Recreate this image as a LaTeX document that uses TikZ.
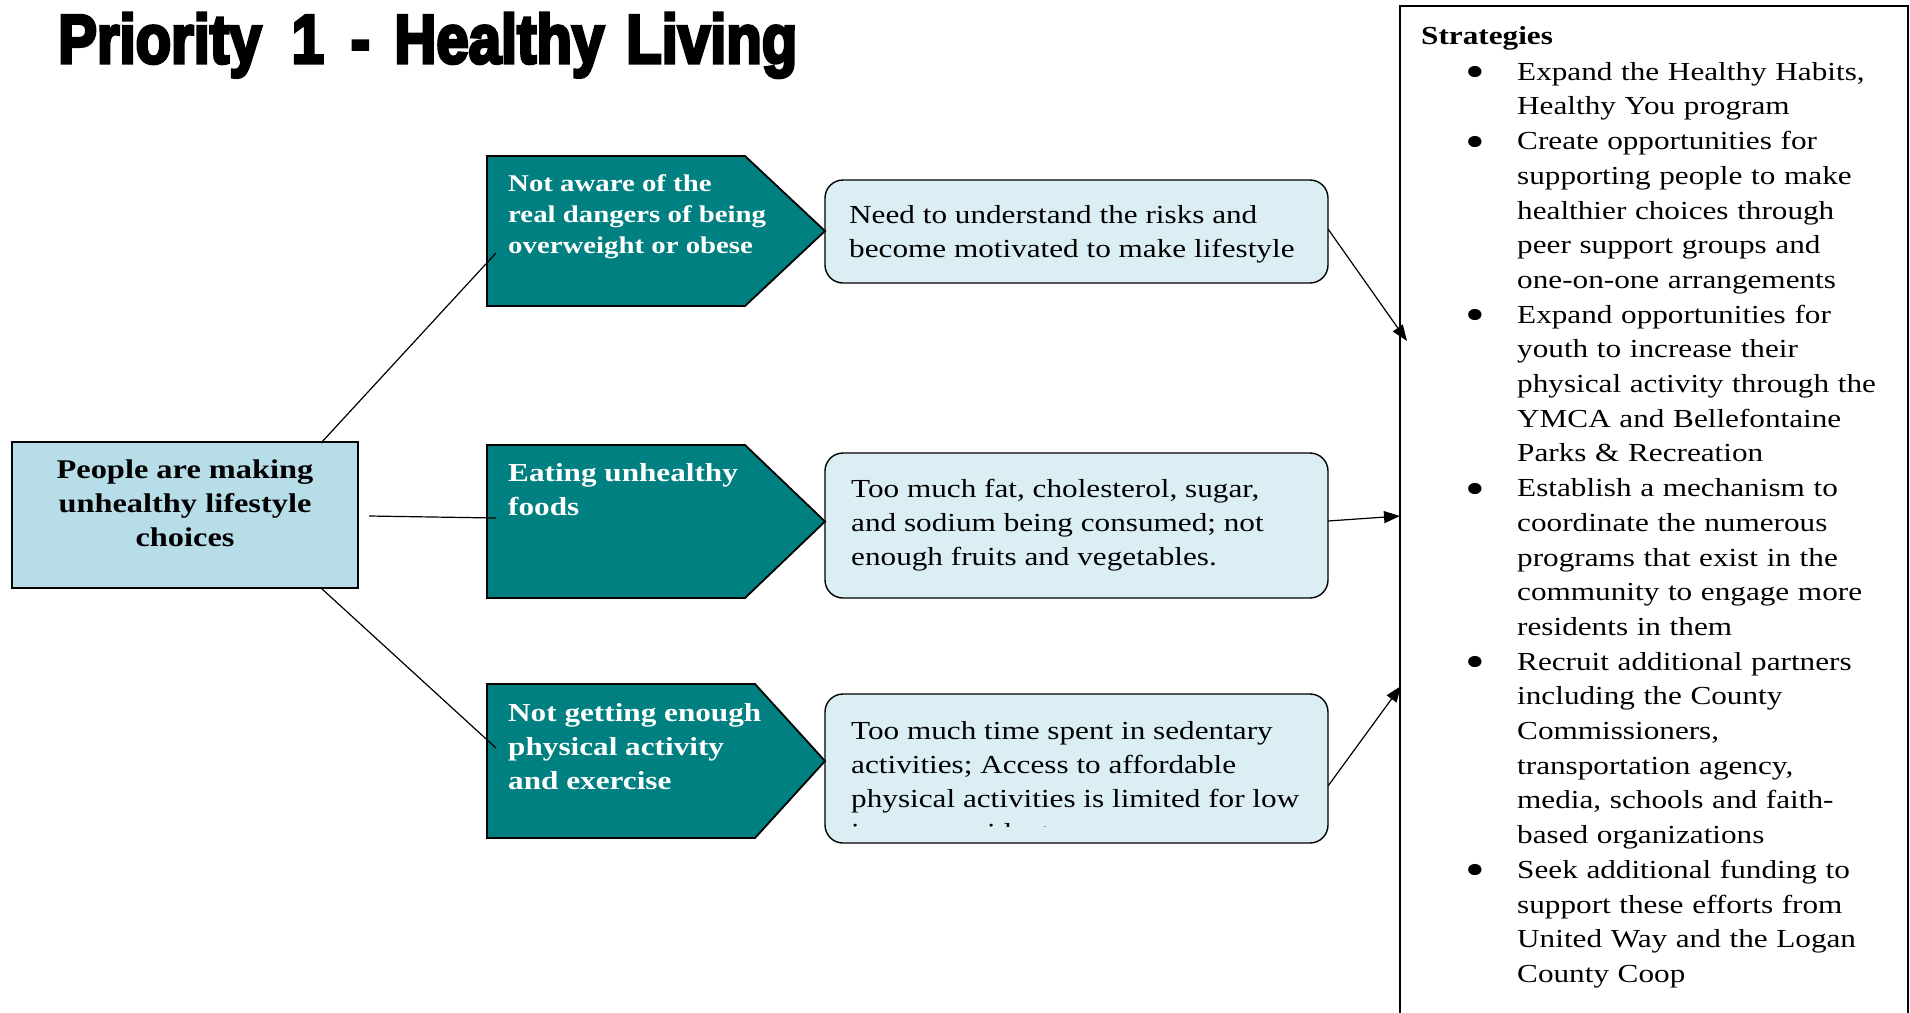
\documentclass[tikz,border=0pt]{standalone}
\usepackage{fontspec}
\usepackage{graphicx}
\setmainfont{Liberation Serif}[FakeStretch=1.2]
\newfontfamily\titlefont{Liberation Sans}[BoldFeatures={FakeBold=5}]
\usetikzlibrary{arrows.meta,calc}
\definecolor{tealfill}{RGB}{0,128,128}
\definecolor{rootfill}{RGB}{183,221,232}
\definecolor{lightfill}{RGB}{218,238,243}
\newcommand{\firststrut}{\rule{0pt}{20pt}}
\newcommand{\bigdot}{\raisebox{-7.5pt}{\scalebox{1.8}{\textbullet}}}
\tikzset{
  boxnode/.style={anchor=north west, inner sep=0pt, outer sep=0pt},
  rootbox/.style={boxnode, fill=rootfill, draw=black, line width=1.6pt},
  lightbox/.style={boxnode, fill=lightfill, draw=black, line width=1.4pt, rounded corners=18pt},
  tealshape/.style={fill=tealfill, draw=black, line width=1.8pt},
  stratbox/.style={boxnode, draw=black, line width=1.8pt},
  txt/.style={anchor=north west, inner sep=0pt, align=left},
  tealtxt/.style={txt, text=white},
  conn/.style={line width=1.2pt},
  arr/.style={line width=1.2pt, -{Triangle[length=16pt,width=12pt]}},
  bigbold/.style={font=\fontsize{26pt}{34pt}\selectfont\bfseries},
  body/.style={font=\fontsize{26pt}{34pt}\selectfont}
}
\begin{document}
\begin{tikzpicture}[x=1pt,y=-1pt]
\useasboundingbox (0,0) rectangle (1910,1012);

% title
\node[anchor=base west, inner sep=0pt] (title) at (58,63)
  {\resizebox{739pt}{50pt}{\titlefont\bfseries Priority\hspace{5.2pt}1\hspace{4.6pt}-\hspace{4.2pt}Healthy\hspace{3.8pt}Living}};

% left box
\node[rootbox, minimum width=346pt, minimum height=146pt] (root) at (12,442) {};
\node[anchor=north, inner sep=0pt, align=center, font=\fontsize{27pt}{34pt}\selectfont\bfseries] (roottxt) at (185,458)
  {\firststrut People are making\\unhealthy lifestyle\\choices};

% light boxes
\node[lightbox, minimum width=503pt, minimum height=103pt] (b1) at (825,180) {};
\node[lightbox, minimum width=503pt, minimum height=145pt] (b2) at (825,453) {};
\node[lightbox, minimum width=503pt, minimum height=149pt] (b3) at (825,694) {};

\node[txt, body] (b1txt) at (849,203)
  {\firststrut Need to understand the risks and\\become motivated to make lifestyle};
\node[txt, body] (b2txt) at (851,477)
  {\firststrut Too much fat, cholesterol, sugar,\\and sodium being consumed; not\\enough fruits and vegetables.};
\begin{scope}
  \clip (825,694) rectangle (1328,826);
  \node[txt, body] (b3txt) at (851,719)
    {\firststrut Too much time spent in sedentary\\activities; Access to affordable\\physical activities is limited for low\\income residents};
\end{scope}

% teal pentagons
\node[boxnode, minimum width=338pt, minimum height=150pt] (t1) at (487,156) {};
\node[boxnode, minimum width=338pt, minimum height=153pt] (t2) at (487,445) {};
\node[boxnode, minimum width=338pt, minimum height=154pt] (t3) at (487,684) {};
\filldraw[tealshape] (t1.north west) -- ([xshift=-80pt]t1.north east) -- (t1.east)
  -- ([xshift=-80pt]t1.south east) -- (t1.south west) -- cycle;
\filldraw[tealshape] (t2.north west) -- ([xshift=-80pt]t2.north east) -- (t2.east)
  -- ([xshift=-80pt]t2.south east) -- (t2.south west) -- cycle;
\filldraw[tealshape] (t3.north west) -- ([xshift=-70pt]t3.north east) -- (t3.east)
  -- ([xshift=-70pt]t3.south east) -- (t3.south west) -- cycle;

\node[tealtxt, font=\fontsize{24pt}{31pt}\selectfont\bfseries] (t1txt) at (508,171)
  {\firststrut Not aware of the\\real dangers of being\\overweight or obese};
\node[tealtxt, bigbold] (t2txt) at (508,461)
  {\firststrut Eating unhealthy\\foods};
\node[tealtxt, bigbold] (t3txt) at (508,701)
  {\firststrut Not getting enough\\physical activity\\and exercise};

% strategies box
\node[stratbox, minimum width=508pt, minimum height=1040pt] (sbox) at (1400,6) {};
\node[anchor=north west, inner sep=0pt, text width=480pt, align=left,
      font=\fontsize{26pt}{34.7pt}\selectfont] (strat) at (1421,24)
  {\firststrut\textbf{Strategies}\par\vspace{1.3pt}%
   \begin{list}{\bigdot}{\setlength\leftmargin{96pt}\setlength\labelwidth{30pt}%
     \setlength\labelsep{32pt}\setlength\itemsep{0pt}\setlength\parsep{0pt}%
     \setlength\topsep{0pt}\setlength\partopsep{0pt}\setlength\itemindent{0pt}}
   \item Expand the Healthy Habits,\\Healthy You program
   \item Create opportunities for\\supporting people to make\\healthier choices through\\peer support groups and\\one-on-one arrangements
   \item Expand opportunities for\\youth to increase their\\physical activity through the\\YMCA and Bellefontaine\\Parks \& Recreation
   \item Establish a mechanism to\\coordinate the numerous\\programs that exist in the\\community to engage more\\residents in them
   \item Recruit additional partners\\including the County\\Commissioners,\\transportation agency,\\media, schools and faith-\\based organizations
   \item Seek additional funding to\\support these efforts from\\United Way and the Logan\\County Coop
   \end{list}};

% connectors
\coordinate (c1a) at (321,443);
\coordinate (c1b) at (496,253);
\coordinate (c2a) at (369,516);
\coordinate (c2b) at (496,518);
\coordinate (c3a) at (321,588);
\coordinate (c3b) at (496,748);
\draw[conn] (c1a) -- (c1b);
\draw[conn] (c2a) -- (c2b);
\draw[conn] (c3a) -- (c3b);

\coordinate (a1a) at (1328,229);
\coordinate (a1b) at (1407,341);
\coordinate (a2a) at (1328,521);
\coordinate (a2b) at (1400,516);
\coordinate (a3a) at (1328,786);
\coordinate (a3b) at (1401,686);
\draw[arr] (a1a) -- (a1b);
\draw[arr] (a2a) -- (a2b);
\draw[arr] (a3a) -- (a3b);
\end{tikzpicture}
\end{document}
